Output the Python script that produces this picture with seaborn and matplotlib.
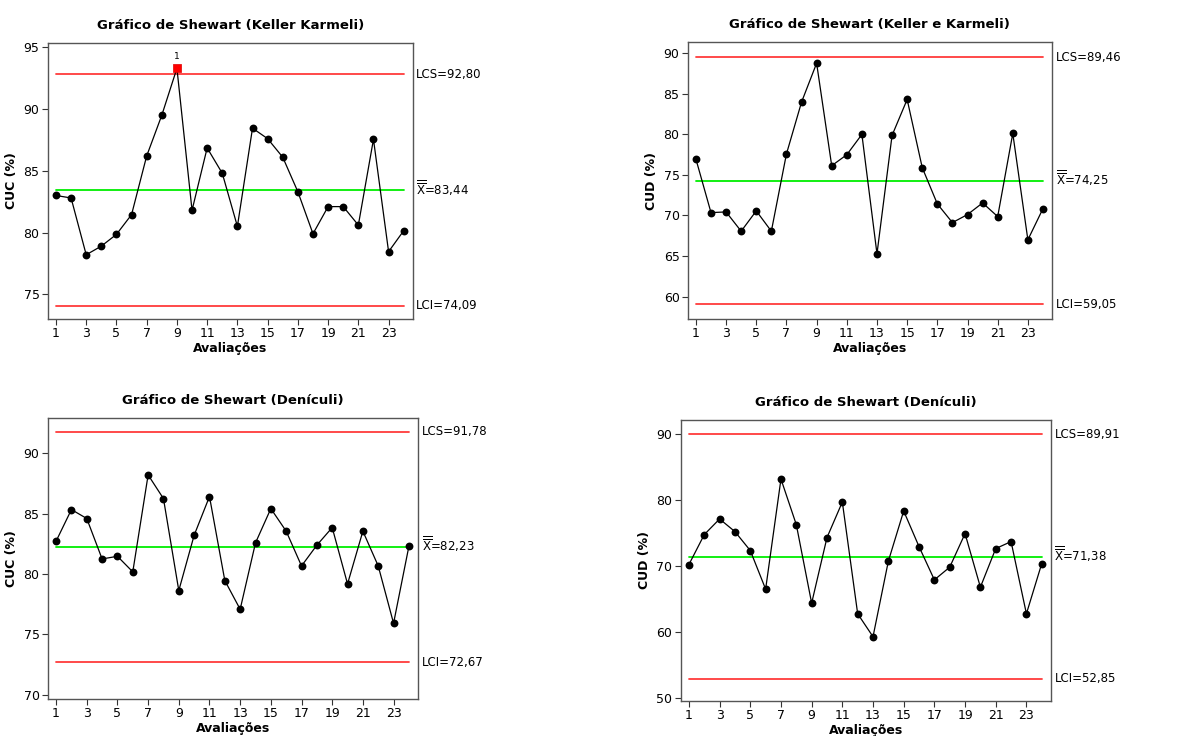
import matplotlib
matplotlib.use("Agg")
import matplotlib.pyplot as plt
import matplotlib.transforms as mtransforms
import pandas as pd
import seaborn as sns

avaliacoes = list(range(1, 25))

cuc_keller = [83.0, 82.8, 78.2, 78.9, 79.85, 81.45, 86.2, 89.5, 93.3, 81.8, 86.85, 84.8,
              80.5, 88.45, 87.6, 86.1, 83.3, 79.9, 82.1, 82.1, 80.6, 87.55, 78.45, 80.15]
cud_keller = [76.94, 70.35, 70.43, 68.06, 70.56, 68.06, 77.56, 83.94, 88.73, 76.12, 77.47, 79.97,
              65.28, 79.85, 84.27, 75.88, 71.42, 69.12, 70.11, 71.54, 69.86, 80.09, 67.0, 70.84]
cuc_deniculi = [82.71, 85.33, 84.59, 81.24, 81.46, 80.17, 88.2, 86.24, 78.62, 83.2, 86.41, 79.45,
                77.07, 82.57, 85.41, 83.54, 80.66, 82.38, 83.84, 79.17, 83.54, 80.66, 75.91, 82.29]
cud_deniculi = [70.18, 74.72, 77.09, 75.17, 72.3, 66.45, 83.14, 76.23, 64.33, 74.27, 79.66, 62.72,
                59.24, 70.69, 78.3, 72.9, 67.86, 69.78, 74.87, 66.75, 72.6, 73.66, 62.72, 70.33]

titles = ["Gráfico de Shewart (Keller Karmeli)", "Gráfico de Shewart (Keller e Karmeli)",
          "Gráfico de Shewart (Denículi)", "Gráfico de Shewart (Denículi)"]
ylabels = ["CUC (%)", "CUD (%)", "CUC (%)", "CUD (%)"]
lcs = [92.80, 89.46, 91.78, 89.91]
media = [83.44, 74.25, 82.23, 71.38]
lci = [74.09, 59.05, 72.67, 52.85]
yticks = [[75, 80, 85, 90, 95], [60, 65, 70, 75, 80, 85, 90],
          [70, 75, 80, 85, 90], [50, 60, 70, 80, 90]]
ylims = [(73.0, 95.35), (57.26, 91.31), (69.64, 92.93), (49.5, 92.12)]
xticks = list(range(1, 24, 2))

sns.set_theme(style="ticks")
plt.rcParams["font.family"] = ["DejaVu Sans"]
plt.rcParams["mathtext.fontset"] = "dejavusans"
for key in ["text.color", "axes.labelcolor", "xtick.color", "ytick.color"]:
    plt.rcParams[key] = "black"

fig = plt.figure(figsize=(11.84, 7.36), dpi=100)
positions = [
    [0.0405, 0.5666, 0.308, 0.375],
    [0.581, 0.5666, 0.3074, 0.376],
    [0.0405, 0.0503, 0.3125, 0.382],
    [0.575, 0.0476, 0.3125, 0.382],
]
series = [cuc_keller, cud_keller, cuc_deniculi, cud_deniculi]


def fmt(v):
    return f"{v:.2f}".replace(".", ",")


for i, vals in enumerate(series):
    ax = fig.add_axes(positions[i])
    df = pd.DataFrame({"Avaliações": avaliacoes, "valor": vals})
    df["fora"] = (df["valor"] > lcs[i]) | (df["valor"] < lci[i])

    # control limits and center line
    ax.plot([1, 24], [lcs[i], lcs[i]], color="#ff3b3b", lw=1.3, zorder=1)
    ax.plot([1, 24], [lci[i], lci[i]], color="#ff3b3b", lw=1.3, zorder=1)
    ax.plot([1, 24], [media[i], media[i]], color="#00ee00", lw=1.3, zorder=1)

    sns.lineplot(data=df, x="Avaliações", y="valor", color="black", lw=0.9, ax=ax, zorder=2)
    sns.scatterplot(data=df[~df["fora"]], x="Avaliações", y="valor", color="black",
                    s=32, edgecolor="black", linewidth=0, ax=ax, zorder=3)
    out = df[df["fora"]]
    if len(out):
        sns.scatterplot(data=out, x="Avaliações", y="valor", color="#ff0000", marker="s",
                        s=30, edgecolor="#dd0000", linewidth=0.5, ax=ax, zorder=4)
        for _, r in out.iterrows():
            ax.annotate("1", (r["Avaliações"], r["valor"]), xytext=(0, 5),
                        textcoords="offset points", ha="center", va="bottom", fontsize=6.5)

    ax.set_xlim(0.47, 24.59)
    ax.set_ylim(*ylims[i])
    ax.set_xticks(xticks)
    ax.set_yticks(yticks[i])
    ax.tick_params(axis="both", labelsize=9, length=4, width=0.8, color="#333333", pad=2)
    ax.set_xlabel("Avaliações", fontsize=9, fontweight="bold", labelpad=1)
    ax.set_ylabel(ylabels[i], fontsize=9, fontweight="bold", labelpad=4)
    ax.set_title(titles[i], fontsize=9.5, fontweight="bold", pad=10)
    for sp in ax.spines.values():
        sp.set_visible(True)
        sp.set_color("#555555")
        sp.set_linewidth(1.0)

    trans = ax.get_yaxis_transform()
    ax.text(1.01, lcs[i], "LCS=" + fmt(lcs[i]), transform=trans,
            va="center", ha="left", fontsize=8.5)
    base = mtransforms.offset_copy(trans, fig=fig, y=-3.2, units="points")
    ax.text(1.01, media[i], r"$\overline{\overline{\mathrm{X}}}$=" + fmt(media[i]),
            transform=base, va="baseline", ha="left", fontsize=8.5)
    ax.text(1.01, lci[i], "LCI=" + fmt(lci[i]), transform=trans,
            va="center", ha="left", fontsize=8.5)

fig.savefig("out.png", dpi=100)
